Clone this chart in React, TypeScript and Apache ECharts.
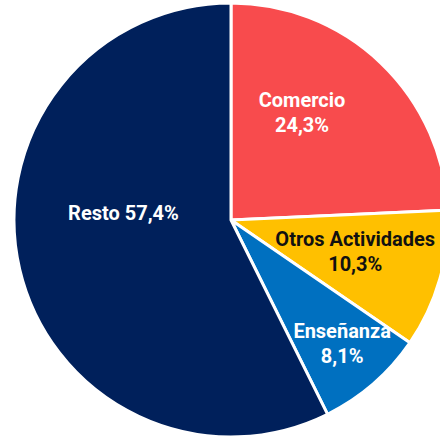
import React, { useEffect, useRef } from "react";
import * as echarts from "echarts";

const categories = ["Comercio", "Otros Actividades", "Enseñanza", "Resto"];
const values = [24.3, 10.3, 8.1, 57.4];
const valueLabels = ["24,3%", "10,3%", "8,1%", "57,4%"];
const colors = ["#F84B4D", "#FFC000", "#0070C0", "#00205B"];
const textColors = ["#ffffff", "#111111", "#ffffff", "#ffffff"];
const labelOffsets: [number, number][] = [[-6, -27], [17, 1], [38, 39], [1, -32]];

export default function App() {
  const ref = useRef<HTMLDivElement>(null);
  useEffect(() => {
    if (!ref.current) return;
    const chart = echarts.init(ref.current, null, { renderer: "svg" });
    chart.setOption({
      animation: false,
      backgroundColor: "#ffffff",
      series: [
        {
          type: "pie",
          center: [231, 220],
          radius: [0, 217],
          startAngle: 90,
          clockwise: true,
          avoidLabelOverlap: false,
          itemStyle: { borderColor: "#ffffff", borderWidth: 3 },
          labelLine: { show: false },
          data: categories.map((c, i) => ({
            name: c,
            value: values[i],
            itemStyle: { color: colors[i] },
            label: {
              show: true,
              position: "inside",
              offset: labelOffsets[i],
              formatter: i === 3 ? `${c} ${valueLabels[i]}` : `${c}\n${valueLabels[i]}`,
              color: textColors[i],
              fontFamily: "'Liberation Sans Narrow', 'Roboto', sans-serif",
              fontWeight: "bold",
              fontSize: 20,
              lineHeight: 25,
              align: "center",
            },
          })),
        },
      ],
    });
    return () => chart.dispose();
  }, []);
  return (
    <div
      ref={ref}
      style={{ position: "absolute", left: 0, top: 0, width: 440, height: 437 }}
    />
  );
}
